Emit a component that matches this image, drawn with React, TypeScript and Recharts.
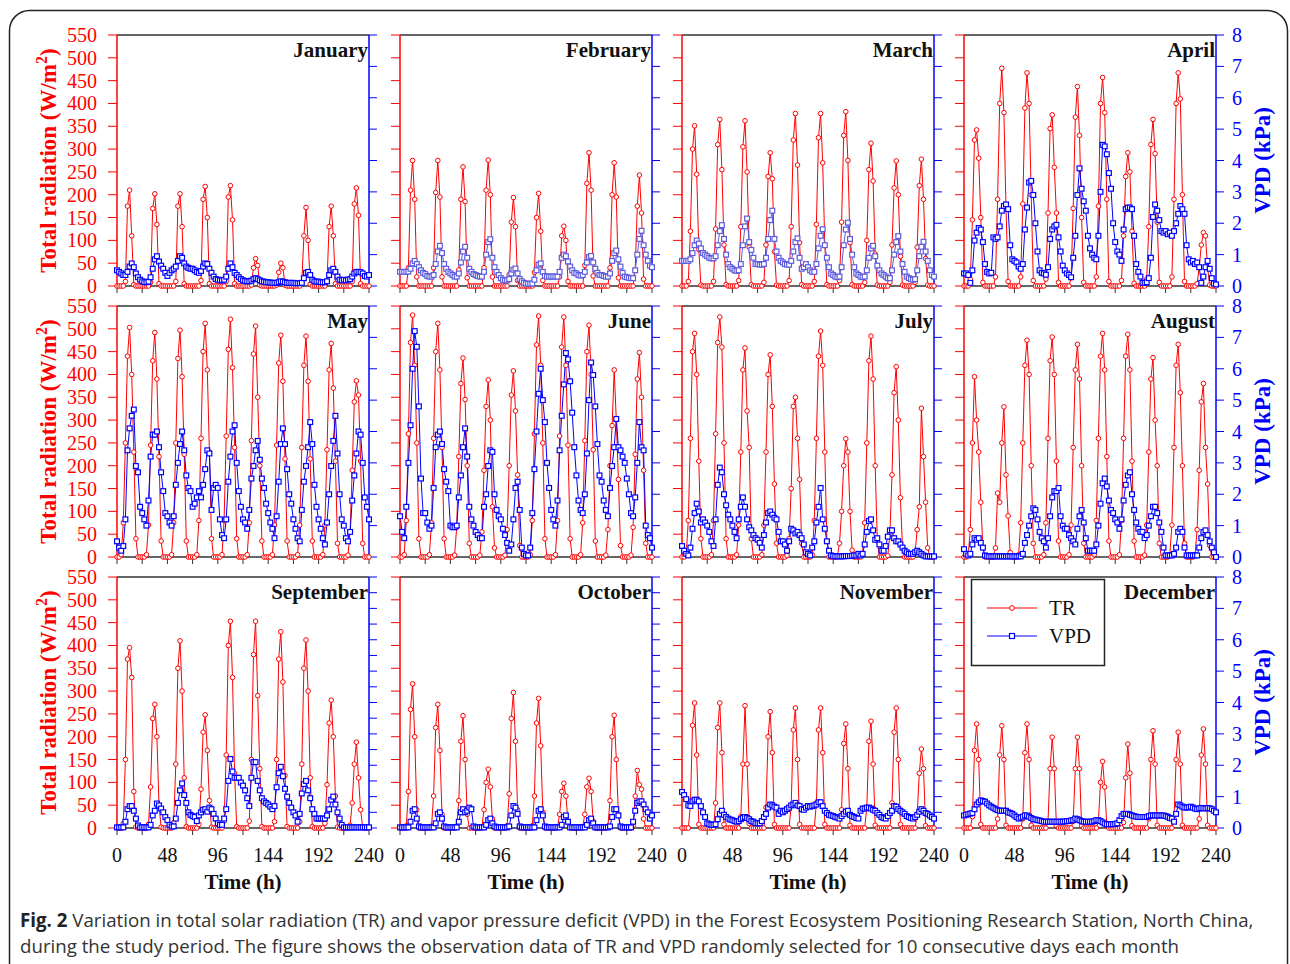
import React from 'react';
import { LineChart, Line, XAxis, YAxis, ReferenceLine } from 'recharts';

const MONTHS = ['January','February','March','April','May','June','July','August','September','October','November','December'];
const HOUR_STEP = 2;
const X_TICKS = [0,24,48,72,96,120,144,168,192,216,240];
const TR_TICKS = [0,50,100,150,200,250,300,350,400,450,500,550];
const VPD_TICKS = [0,1,2,3,4,5,6,7,8];
const VPD_TICKS_HALF = [0,0.5,1,1.5,2,2.5,3,3.5,4,4.5,5,5.5,6,6.5,7,7.5,8];

// ---- TR (W/m2), every 2 h, 10 days + end point ----
const JAN_TR = [
0,0,0,0,10,175,210,110,3,0,0,0, 0,0,0,0,8,170,202,135,5,0,0,0, 0,0,0,0,10,175,202,130,5,0,0,0,
0,0,0,0,12,190,218,150,5,0,0,0, 0,0,0,0,10,195,220,145,5,0,0,0, 0,0,0,0,2,40,60,45,2,0,0,0,
0,0,0,0,2,30,50,40,2,0,0,0, 0,0,0,0,8,110,172,100,4,0,0,0, 0,0,0,0,10,130,175,110,5,0,0,0,
0,0,0,0,10,180,215,155,5,0,0,0, 0];
const JAN_VPD = [
0.50,0.45,0.40,0.35,0.35,0.45,0.62,0.72,0.60,0.40,0.28,0.20,
0.15,0.12,0.12,0.14,0.28,0.55,0.85,0.95,0.78,0.65,0.55,0.42,
0.32,0.42,0.50,0.55,0.62,0.80,0.95,0.90,0.72,0.62,0.58,0.55,
0.55,0.50,0.45,0.42,0.48,0.62,0.72,0.70,0.55,0.42,0.30,0.22,
0.20,0.18,0.18,0.20,0.30,0.55,0.72,0.60,0.42,0.35,0.28,0.22,
0.18,0.16,0.15,0.15,0.17,0.22,0.25,0.22,0.18,0.15,0.14,0.12,
0.12,0.11,0.10,0.10,0.10,0.12,0.15,0.14,0.12,0.10,0.10,0.10,
0.10,0.09,0.09,0.09,0.10,0.25,0.42,0.45,0.35,0.20,0.15,0.14,
0.14,0.12,0.12,0.12,0.15,0.35,0.50,0.55,0.45,0.30,0.20,0.18,
0.20,0.18,0.20,0.22,0.30,0.40,0.45,0.45,0.44,0.40,0.32,0.30, 0.35];

const FEB_TR = [
0,0,0,0,40,210,275,190,20,0,0,0, 0,0,0,0,40,205,275,195,20,0,0,0, 0,0,0,0,35,190,261,185,18,0,0,0,
0,0,0,0,40,210,276,200,20,0,0,0, 0,0,0,0,25,140,194,130,12,0,0,0, 0,0,0,0,30,150,203,120,12,0,0,0,
0,0,0,0,20,110,131,100,10,0,0,0, 0,0,0,0,45,225,292,210,22,0,0,0, 0,0,0,0,40,200,270,195,18,0,0,0,
0,0,0,0,35,175,243,160,15,0,0,0, 0];
const FEB_VPD = [
0.45,0.45,0.45,0.45,0.46,0.55,0.72,0.80,0.70,0.60,0.50,0.42,
0.38,0.32,0.30,0.30,0.35,0.70,1.10,1.28,1.05,0.70,0.55,0.45,
0.40,0.35,0.30,0.30,0.40,0.75,1.10,1.25,0.90,0.55,0.45,0.38,
0.35,0.32,0.30,0.30,0.45,1.00,1.40,1.49,0.90,0.60,0.45,0.35,
0.25,0.20,0.18,0.18,0.22,0.40,0.52,0.56,0.40,0.22,0.15,0.10,
0.08,0.07,0.07,0.08,0.20,0.50,0.68,0.72,0.45,0.32,0.30,0.30,
0.30,0.30,0.30,0.30,0.45,0.90,1.00,0.95,0.78,0.62,0.50,0.42,
0.40,0.35,0.33,0.35,0.45,0.75,0.92,0.96,0.75,0.55,0.42,0.35,
0.35,0.32,0.30,0.30,0.40,0.80,1.05,1.13,0.85,0.62,0.42,0.30,
0.28,0.26,0.25,0.25,0.50,1.00,1.50,1.76,1.30,1.00,0.80,0.65, 0.60];

const MAR_TR = [
0,0,0,10,120,300,351,245,80,2,0,0, 0,0,0,10,125,310,365,255,90,3,0,0, 0,0,0,12,130,305,362,250,85,3,0,0,
0,0,0,8,90,240,292,235,75,2,0,0, 0,0,0,12,130,320,378,265,95,3,0,0, 0,0,0,10,135,325,378,270,90,3,0,0,
0,0,0,12,140,330,382,275,95,3,0,0, 0,0,0,8,100,255,313,230,70,2,0,0, 0,0,0,8,90,215,274,200,65,2,0,0,
0,0,0,8,85,220,278,190,60,2,0,0, 0];
const MAR_VPD = [
0.80,0.80,0.80,0.80,0.85,1.05,1.30,1.45,1.35,1.20,1.05,1.00,
0.95,0.90,0.88,0.88,0.95,1.30,1.75,1.94,1.50,1.00,0.70,0.60,
0.55,0.50,0.48,0.50,0.70,1.30,1.90,2.15,1.40,1.15,0.90,0.70,
0.70,0.68,0.68,0.70,0.90,1.50,2.10,2.40,1.50,1.10,0.90,0.80,
0.75,0.70,0.68,0.68,0.80,1.10,1.40,1.52,0.90,0.55,0.60,0.70,
0.60,0.50,0.45,0.45,0.70,1.20,1.60,1.81,1.30,0.90,0.60,0.40,
0.35,0.30,0.28,0.30,0.60,1.30,1.80,2.02,1.50,1.00,0.60,0.40,
0.35,0.30,0.28,0.30,0.50,0.90,1.20,1.28,0.95,0.65,0.50,0.40,
0.35,0.30,0.25,0.25,0.50,1.00,1.40,1.59,1.10,0.70,0.45,0.30,
0.25,0.22,0.20,0.22,0.50,0.95,1.25,1.41,1.10,0.80,0.50,0.35, 0.30];

const APR_TR = [
0,0,0,15,145,320,342,280,150,8,0,0, 0,0,0,20,190,400,477,380,170,10,0,0, 0,0,0,20,180,390,467,400,200,12,0,0,
0,0,0,15,160,345,375,260,160,8,0,0, 0,0,0,18,170,370,437,330,150,8,0,0, 0,0,0,20,175,400,457,380,190,10,0,0,
0,0,0,12,110,240,292,250,120,6,0,0, 0,0,0,15,130,310,365,290,140,8,0,0, 0,0,0,20,190,400,467,410,200,10,0,0,
0,0,0,5,40,90,117,110,40,2,0,0, 0];
const APR_VPD = [
0.40,0.40,0.35,0.10,0.50,1.45,1.70,1.85,1.80,1.40,0.70,0.45,
0.40,0.42,1.55,1.50,1.55,1.90,2.40,2.55,2.60,2.45,1.30,0.85,
0.80,0.75,0.62,0.55,0.70,1.80,2.50,3.30,3.35,2.90,2.00,1.10,
0.50,0.42,0.40,0.36,0.60,1.50,1.80,1.90,1.95,1.55,1.10,0.65,
0.50,0.40,0.35,0.28,0.90,1.60,2.90,3.75,3.10,2.70,2.40,1.60,
1.20,1.00,0.90,0.85,1.60,3.00,4.50,4.45,4.20,3.60,3.10,2.00,
1.40,1.10,1.00,0.80,1.80,2.45,2.50,2.50,2.45,1.60,0.70,0.45,
0.30,0.10,0.10,0.12,0.25,0.90,2.20,2.60,2.40,2.10,1.75,1.70,
1.75,1.65,1.70,1.60,1.75,2.00,2.30,2.55,2.45,2.30,1.30,0.85,
0.75,0.80,0.70,0.75,0.60,0.10,0.30,0.60,0.80,0.55,0.25,0.08, 0.05];

const MAY_TR = [
0,0,5,75,250,440,503,400,230,40,0,0, 0,0,5,70,245,430,492,390,220,35,0,0, 0,0,5,75,250,435,497,395,225,35,0,0,
0,0,5,80,260,450,512,410,230,40,0,0, 0,0,5,80,265,455,521,415,240,40,0,0, 0,0,5,75,255,445,506,350,200,35,0,0,
0,0,5,70,245,425,486,385,215,35,0,0, 0,0,5,70,240,420,484,385,215,35,0,0, 0,0,5,70,235,410,468,370,210,30,0,0,
0,0,4,55,190,340,386,355,210,30,0,0, 0];
const MAY_VPD = [
0.50,0.30,0.20,0.35,1.20,3.40,4.10,4.50,4.70,2.90,2.70,1.60,
1.40,1.20,1.00,1.80,3.20,3.90,3.90,4.00,3.50,2.70,2.10,1.40,
1.30,1.10,1.00,1.30,2.30,3.00,3.60,4.00,3.40,2.60,2.20,2.10,
1.60,1.70,1.90,2.10,1.90,2.30,2.80,3.40,3.30,1.50,2.20,2.30,
2.20,1.20,0.70,0.60,1.20,2.40,3.20,4.00,4.20,3.00,2.10,1.60,
1.20,1.10,0.90,1.50,2.50,2.90,3.40,3.70,3.10,2.50,2.20,1.70,
1.40,1.10,0.90,0.60,1.30,2.40,3.60,4.10,3.60,2.80,2.00,1.70,
1.20,0.90,0.60,0.50,1.50,2.40,2.90,3.50,4.30,3.60,2.30,1.60,
1.20,0.90,0.60,0.40,1.10,2.00,2.90,3.70,4.50,3.30,2.00,1.20,
1.00,0.60,0.50,0.80,1.80,2.60,3.30,4.00,3.90,3.00,1.90,1.60, 1.20];

const JUN_TR = [
0,0,5,80,270,470,530,420,250,40,0,0, 0,0,5,75,260,450,512,410,240,40,0,0, 0,0,4,65,220,380,436,345,200,30,0,0,
0,0,4,55,190,330,388,300,110,20,0,0, 0,0,4,60,200,355,408,320,180,25,0,0, 0,0,5,80,270,465,528,420,250,40,0,0,
0,0,5,80,265,460,526,420,245,40,0,0, 0,0,5,75,255,450,508,400,235,35,0,0, 0,0,4,60,200,288,410,300,170,25,0,0,
0,0,4,65,225,390,448,350,190,30,0,0, 0];
const JUN_VPD = [
1.30,0.80,0.60,1.60,3.00,4.20,6.00,7.20,6.70,4.80,2.50,1.40,
1.40,1.10,0.90,1.00,2.20,3.50,3.90,4.00,3.60,2.80,2.40,2.10,
1.00,0.95,0.95,1.00,1.90,2.60,3.50,4.10,3.20,1.60,1.20,1.00,
0.80,0.70,0.60,0.60,1.60,2.00,2.90,3.40,3.35,2.00,1.50,1.30,
1.20,0.90,0.70,0.45,0.20,0.40,1.20,2.20,2.40,1.50,0.30,0.10,
0.05,0.05,0.30,1.40,2.80,4.00,5.20,6.00,5.00,4.30,3.00,2.20,
1.50,1.20,1.00,1.80,3.40,4.50,5.50,6.50,6.30,5.60,4.60,3.50,
2.60,1.80,1.50,1.40,2.00,3.30,5.00,6.20,5.80,4.80,3.60,2.60,
2.40,1.80,1.50,1.30,2.20,2.90,3.50,4.40,3.50,3.40,3.20,3.00,
2.50,2.00,1.40,1.30,1.90,3.00,4.30,3.50,3.40,1.00,0.70,0.60, 0.30];

const JUL_TR = [
0,0,5,80,260,450,490,400,210,40,0,0, 0,0,5,80,270,470,526,460,250,40,0,0, 0,0,5,70,230,410,458,320,240,40,0,0,
0,0,5,70,230,400,443,330,160,30,0,0, 0,0,3,40,150,330,350,260,170,30,0,0, 0,0,5,80,260,440,495,420,230,35,0,0,
0,0,2,30,100,200,259,230,100,15,0,0, 0,0,5,75,250,430,484,390,200,35,0,0, 0,0,3,50,180,360,417,300,130,20,0,0,
0,0,0,10,60,110,326,220,120,20,0,0, 0];
const JUL_VPD = [
0.35,0.20,0.10,0.05,0.30,0.90,1.40,1.70,1.45,1.10,1.20,1.10,
1.00,0.80,0.50,0.35,1.20,2.30,2.85,2.70,2.00,1.65,1.35,1.20,
1.00,0.80,0.60,1.20,1.60,1.90,1.60,1.20,0.95,0.85,0.70,0.60,
0.55,0.45,0.30,0.70,1.10,1.40,1.45,1.35,1.25,1.20,0.80,0.50,
0.50,0.40,0.20,0.50,0.90,0.85,0.75,0.80,0.70,0.60,0.40,0.15,
0.10,0.05,0.30,0.50,1.10,1.60,2.20,1.20,0.90,0.50,0.20,0.05,
0.03,0.02,0.02,0.02,0.02,0.02,0.03,0.03,0.03,0.04,0.05,0.05,
0.10,0.05,0.10,0.40,0.80,1.15,1.20,0.85,0.55,0.60,0.40,0.20,
0.20,0.35,0.65,0.85,0.85,0.60,0.50,0.50,0.40,0.30,0.20,0.15,
0.10,0.10,0.10,0.15,0.20,0.15,0.10,0.05,0.02,0.02,0.02,0.02, 0.02];

const AUG_TR = [
0,0,3,60,250,395,300,230,120,20,0,0, 0,0,0,20,140,120,250,329,180,90,10,0, 0,0,5,75,250,420,475,400,200,30,0,0,
0,0,5,75,260,430,482,400,210,35,0,0, 0,0,5,70,240,410,466,390,200,30,0,0, 0,0,5,80,260,440,490,410,220,35,0,0,
0,0,5,80,260,440,488,410,210,35,0,0, 0,0,4,70,230,390,437,300,200,30,0,0, 0,0,5,70,240,420,466,360,200,30,0,0,
0,0,4,60,190,340,380,240,160,25,0,0, 0];
const AUG_VPD = [
0.25,0.10,0.05,0.10,0.40,0.60,0.55,0.60,0.45,0.30,0.05,0.03,
0.02,0.02,0.02,0.02,0.02,0.02,0.02,0.02,0.02,0.02,0.02,0.02,
0.02,0.02,0.02,0.02,0.10,0.45,0.70,1.00,1.30,1.55,1.50,1.20,
0.80,0.60,0.50,0.30,0.60,1.30,1.90,2.10,2.10,2.20,1.30,1.00,
0.90,0.90,0.70,0.60,0.50,0.40,0.90,1.30,1.50,1.10,0.60,0.20,
0.20,0.20,0.20,0.40,1.00,1.70,2.35,2.50,2.25,1.80,1.50,1.40,
1.20,1.10,0.90,1.20,1.80,2.30,2.60,2.70,2.00,1.50,1.10,0.90,
0.80,0.80,0.60,0.70,1.00,1.30,1.60,1.60,1.40,1.10,0.80,0.30,
0.05,0.05,0.05,0.05,0.10,0.30,0.80,0.90,0.80,0.30,0.05,0.05,
0.05,0.05,0.05,0.05,0.30,0.60,0.80,0.85,0.70,0.50,0.30,0.15, 0.00];

const SEP_TR = [
0,0,0,10,150,370,395,330,80,2,0,0, 0,0,0,8,90,240,271,200,50,2,0,0, 0,0,0,12,140,350,410,300,110,3,0,0,
0,0,0,8,85,210,248,170,60,2,0,0, 0,0,0,15,160,400,453,330,120,3,0,0, 0,0,0,15,150,380,453,290,130,3,0,0,
0,0,0,14,150,370,430,320,115,3,0,0, 0,0,0,14,140,350,412,300,110,3,0,0, 0,0,0,10,95,230,280,200,70,2,0,0,
0,0,0,6,55,140,188,110,40,1,0,0, 0];
const SEP_VPD = [
0.02,0.02,0.02,0.02,0.20,0.60,0.70,0.70,0.55,0.30,0.08,0.02,
0.02,0.02,0.02,0.02,0.10,0.40,0.55,0.78,0.72,0.62,0.50,0.35,
0.25,0.10,0.05,0.05,0.30,0.80,1.20,1.42,1.05,0.80,0.50,0.42,
0.38,0.35,0.22,0.40,0.50,0.58,0.60,0.52,0.65,0.60,0.45,0.30,
0.15,0.10,0.10,0.30,0.60,1.50,2.20,1.80,1.60,1.60,1.60,1.45,
1.35,1.20,0.95,0.70,1.60,2.10,2.10,1.50,1.20,0.95,0.85,0.80,
0.75,0.68,0.60,0.70,1.30,1.75,1.95,1.65,1.25,1.00,0.80,0.65,
0.50,0.40,0.20,0.45,1.10,1.40,1.50,1.20,0.95,0.60,0.45,0.30,
0.30,0.30,0.30,0.30,0.40,0.60,0.90,1.00,0.75,0.50,0.30,0.10,
0.02,0.02,0.02,0.02,0.02,0.02,0.02,0.02,0.02,0.02,0.02,0.02, 0.02];

const OCT_TR = [
0,0,0,5,80,260,316,200,40,0,0,0, 0,0,0,4,70,220,271,170,30,0,0,0, 0,0,0,4,60,190,246,150,30,0,0,0,
0,0,0,2,40,100,129,90,20,0,0,0, 0,0,0,5,75,240,297,190,40,0,0,0, 0,0,0,5,70,230,284,180,35,0,0,0,
0,0,0,2,30,80,98,70,15,0,0,0, 0,0,0,2,30,90,109,80,15,0,0,0, 0,0,0,4,60,200,247,150,30,0,0,0,
0,0,0,5,70,126,95,85,20,0,0,0, 0];
const OCT_VPD = [
0.02,0.02,0.02,0.02,0.02,0.20,0.55,0.60,0.30,0.05,0.02,0.02,
0.02,0.02,0.02,0.02,0.02,0.15,0.45,0.50,0.30,0.05,0.02,0.02,
0.02,0.02,0.02,0.02,0.20,0.50,0.60,0.50,0.55,0.65,0.60,0.05,
0.02,0.02,0.02,0.02,0.02,0.10,0.25,0.30,0.15,0.05,0.02,0.02,
0.02,0.02,0.02,0.02,0.05,0.40,0.70,0.65,0.45,0.05,0.02,0.02,
0.02,0.02,0.02,0.02,0.02,0.25,0.55,0.60,0.40,0.05,0.02,0.02,
0.02,0.02,0.02,0.02,0.02,0.10,0.35,0.40,0.20,0.02,0.02,0.02,
0.02,0.02,0.02,0.02,0.02,0.10,0.25,0.30,0.15,0.02,0.02,0.02,
0.02,0.02,0.02,0.02,0.05,0.35,0.60,0.60,0.40,0.05,0.02,0.02,
0.02,0.02,0.02,0.20,0.55,0.80,0.85,0.85,0.75,0.60,0.50,0.30, 0.40];

const NOV_TR = [
0,0,0,0,50,225,274,160,8,0,0,0, 0,0,0,0,55,220,274,165,8,0,0,0, 0,0,0,0,25,140,268,140,10,0,0,0,
0,0,0,0,45,200,255,165,8,0,0,0, 0,0,0,0,50,215,263,150,8,0,0,0, 0,0,0,0,55,215,263,165,8,0,0,0,
0,0,0,0,40,185,228,130,6,0,0,0, 0,0,0,0,45,190,234,140,6,0,0,0, 0,0,0,0,55,210,263,150,8,0,0,0,
0,0,0,0,30,120,173,130,5,0,0,0, 0];
const NOV_VPD = [
1.15,1.05,0.92,0.72,0.70,0.85,0.90,0.90,0.85,0.70,0.50,0.35,
0.15,0.12,0.10,0.10,0.12,0.28,0.45,0.55,0.42,0.35,0.30,0.27,
0.25,0.22,0.20,0.22,0.28,0.32,0.35,0.32,0.28,0.22,0.20,0.15,
0.15,0.15,0.22,0.35,0.45,0.65,0.75,0.72,0.68,0.65,0.45,0.55,
0.50,0.55,0.60,0.65,0.72,0.75,0.80,0.72,0.70,0.60,0.58,0.65,
0.70,0.68,0.70,0.72,0.75,0.82,0.82,0.70,0.55,0.48,0.42,0.40,
0.38,0.35,0.33,0.30,0.38,0.45,0.52,0.55,0.42,0.38,0.35,0.32,
0.30,0.55,0.62,0.62,0.65,0.65,0.62,0.58,0.55,0.48,0.42,0.35,
0.32,0.30,0.38,0.48,0.55,0.70,0.68,0.60,0.55,0.50,0.45,0.38,
0.35,0.32,0.30,0.35,0.42,0.52,0.60,0.55,0.48,0.45,0.40,0.35, 0.30];

const DEC_TR = [
0,0,0,0,25,170,228,150,8,0,0,0, 0,0,0,0,20,160,224,150,6,0,0,0, 0,0,0,0,20,165,228,150,6,0,0,0,
0,0,0,0,15,130,199,130,5,0,0,0, 0,0,0,0,15,130,199,130,5,0,0,0, 0,0,0,0,15,100,146,90,5,0,0,0,
0,0,0,0,12,110,184,120,5,0,0,0, 0,0,0,0,20,150,213,140,6,0,0,0, 0,0,0,0,20,150,210,140,6,0,0,0,
0,0,0,0,20,160,217,140,6,0,0,0, 0];
const DEC_VPD = [
0.40,0.42,0.44,0.46,0.48,0.60,0.75,0.82,0.88,0.86,0.84,0.78,
0.72,0.68,0.64,0.60,0.57,0.55,0.55,0.55,0.55,0.50,0.48,0.45,
0.40,0.35,0.30,0.33,0.36,0.40,0.40,0.36,0.32,0.28,0.27,0.25,
0.24,0.22,0.20,0.20,0.20,0.20,0.20,0.20,0.20,0.20,0.20,0.20,
0.21,0.22,0.22,0.24,0.25,0.30,0.28,0.25,0.22,0.20,0.20,0.20,
0.20,0.20,0.22,0.25,0.25,0.22,0.18,0.14,0.12,0.12,0.12,0.12,
0.13,0.15,0.25,0.38,0.45,0.45,0.45,0.42,0.40,0.38,0.36,0.35,
0.35,0.35,0.35,0.35,0.38,0.40,0.40,0.40,0.40,0.40,0.40,0.40,
0.38,0.36,0.32,0.30,0.20,0.45,0.75,0.72,0.68,0.65,0.65,0.66,
0.68,0.65,0.62,0.60,0.62,0.64,0.63,0.62,0.64,0.63,0.60,0.55, 0.50];

const TR_SERIES = [JAN_TR, FEB_TR, MAR_TR, APR_TR, MAY_TR, JUN_TR, JUL_TR, AUG_TR, SEP_TR, OCT_TR, NOV_TR, DEC_TR];
const VPD_SERIES = [JAN_VPD, FEB_VPD, MAR_VPD, APR_VPD, MAY_VPD, JUN_VPD, JUL_VPD, AUG_VPD, SEP_VPD, OCT_VPD, NOV_VPD, DEC_VPD];

// ---- layout ----
const COL_X = [117, 400, 682, 964];
const ROW_Y = [35, 306, 577];
const PW = 252, PH = 251;
const ML = 70, MR = 70, MT = 10, MB = 50;
const SERIF = '"Liberation Serif", "Times New Roman", serif';
const SANS = '"Open Sans", "Noto Sans", sans-serif';
const RED = '#ff0000';
const BLUE = '#0000ff';
const FRAME = '#333333';

const circleDot = (p: any) => {
  if (p.cx == null || p.cy == null) return <g key={`c${p.index}`} />;
  return <circle key={`c${p.index}`} cx={p.cx} cy={p.cy} r={2.3} fill="#fff" stroke={RED} strokeWidth={1} />;
};
const squareDot = (color: string) => (p: any) => {
  if (p.cx == null || p.cy == null) return <g key={`s${p.index}`} />;
  return <rect key={`s${p.index}`} x={p.cx - 2.4} y={p.cy - 2.4} width={4.8} height={4.8} fill="#fff" stroke={color} strokeWidth={1.2} />;
};

function Panel({ idx }: { idx: number }) {
  const col = idx % 4;
  const row = Math.floor(idx / 4);
  const tr = TR_SERIES[idx];
  const vpd = VPD_SERIES[idx];
  const data = tr.map((v, i) => ({ h: i * HOUR_STEP, tr: v, vpd: vpd[i] }));
  const showLeft = col === 0;
  const showRight = col === 3;
  const showX = row === 2;
  const half = row === 2 && col < 3;
  const vpdColor = idx === 1 || idx === 2 ? '#5c5cdc' : BLUE;

  const leftTick = (p: any) =>
    showLeft ? (
      <text x={ML - 20} y={p.y + 7} textAnchor="end" fontFamily={SERIF} fontSize={20} fill={RED}>{p.payload.value}</text>
    ) : <g />;
  const rightTick = (p: any) =>
    showRight && Number.isInteger(p.payload.value) ? (
      <text x={ML + PW + 16} y={p.y + 7} textAnchor="start" fontFamily={SERIF} fontSize={20} fill={BLUE}>{p.payload.value}</text>
    ) : <g />;
  const xTick = (p: any) =>
    showX && p.payload.value % 48 === 0 ? (
      <text x={p.x} y={MT + PH + 34} textAnchor="middle" fontFamily={SERIF} fontSize={20} fill="#111">{p.payload.value}</text>
    ) : <g />;

  return (
    <div style={{ position: 'absolute', left: COL_X[col] - ML, top: ROW_Y[row] - MT }}>
      <LineChart width={PW + ML + MR} height={PH + MT + MB} data={data} margin={{ top: MT, right: 0, bottom: 0, left: 0 }}>
        <XAxis dataKey="h" type="number" domain={[0, 240]} ticks={X_TICKS} interval={0} height={MB}
          axisLine={{ stroke: FRAME, strokeWidth: 1.5 }} tickLine={{ stroke: FRAME }} tickSize={7} tick={xTick} />
        <YAxis yAxisId="tr" orientation="left" domain={[0, 550]} ticks={TR_TICKS} interval={0} width={ML}
          axisLine={{ stroke: RED, strokeWidth: 1.5 }} tickLine={{ stroke: RED }} tickSize={9} tick={leftTick} />
        <YAxis yAxisId="vpd" orientation="right" domain={[0, 8]} ticks={half ? VPD_TICKS_HALF : VPD_TICKS} interval={0} width={MR}
          axisLine={{ stroke: BLUE, strokeWidth: 1.5 }} tickLine={{ stroke: BLUE }} tickSize={8} tick={rightTick} />
        <ReferenceLine yAxisId="tr" y={550} stroke={FRAME} strokeWidth={1.5} />
        <Line yAxisId="tr" type="linear" dataKey="tr" stroke={RED} strokeWidth={1} dot={circleDot} activeDot={false} isAnimationActive={false} />
        <Line yAxisId="vpd" type="linear" dataKey="vpd" stroke={vpdColor} strokeWidth={1} dot={squareDot(vpdColor)} activeDot={false} isAnimationActive={false} />
      </LineChart>
    </div>
  );
}

function Overlay() {
  const rows = [0, 1, 2];
  const cols = [0, 1, 2, 3];
  return (
    <svg width={1290} height={964} style={{ position: 'absolute', left: 0, top: 0, pointerEvents: 'none' }}>
      <rect x={9.5} y={10.5} width={1278} height={1000} rx={20} ry={20} fill="none" stroke="#222" strokeWidth={1.5} />
      {MONTHS.map((m, i) => (
        <text key={m} x={COL_X[i % 4] + PW - 1} y={ROW_Y[Math.floor(i / 4)] + 22} textAnchor="end"
          fontFamily={SERIF} fontWeight="bold" fontSize={21} fill="#111">{m}</text>
      ))}
      {rows.map((r) => (
        <text key={`lt${r}`} transform={`translate(56, ${ROW_Y[r] + PH / 2}) rotate(-90)`} textAnchor="middle"
          fontFamily={SERIF} fontWeight="bold" fontSize={23} fill={RED}>
          Total radiation (W/m<tspan dy={-9} fontSize={16}>2</tspan><tspan dy={9}>)</tspan>
        </text>
      ))}
      {rows.map((r) => (
        <text key={`rt${r}`} transform={`translate(1270, ${ROW_Y[r] + PH / 2}) rotate(-90)`} textAnchor="middle"
          fontFamily={SERIF} fontWeight="bold" fontSize={23} fill={BLUE}>VPD (kPa)</text>
      ))}
      {cols.map((c) => (
        <text key={`xt${c}`} x={COL_X[c] + PW / 2} y={889} textAnchor="middle"
          fontFamily={SERIF} fontWeight="bold" fontSize={21} fill="#111">Time (h)</text>
      ))}
      <g>
        <rect x={971.5} y={579.5} width={133} height={86} fill="#fff" stroke="#222" strokeWidth={1.5} />
        <line x1={987} x2={1037} y1={608} y2={608} stroke={RED} strokeWidth={1.2} />
        <circle cx={1012} cy={608} r={2.4} fill="#fff" stroke={RED} strokeWidth={1} />
        <text x={1049} y={615} fontFamily={SERIF} fontSize={21} fill="#111">TR</text>
        <line x1={987} x2={1037} y1={636} y2={636} stroke={BLUE} strokeWidth={1.2} />
        <rect x={1009.5} y={633.5} width={5} height={5} fill="#fff" stroke={BLUE} strokeWidth={1.2} />
        <text x={1049} y={643} fontFamily={SERIF} fontSize={21} fill="#111">VPD</text>
      </g>
      <text x={20} y={927} fontFamily={SANS} fontSize={18.7} fill="#333">
        <tspan fontWeight="bold" fill="#222">Fig. 2</tspan> Variation in total solar radiation (TR) and vapor pressure deficit (VPD) in the Forest Ecosystem Positioning Research Station, North China,
      </text>
      <text x={20} y={953} fontFamily={SANS} fontSize={18.7} fill="#333">
        during the study period. The figure shows the observation data of TR and VPD randomly selected for 10 consecutive days each month
      </text>
    </svg>
  );
}

export default function App() {
  const panels = MONTHS.map((_, i) => i);
  return (
    <div style={{ position: 'absolute', left: 0, top: 0, width: 1290, height: 964, background: '#fff', overflow: 'hidden' }}>
      {panels.map((i) => <Panel key={i} idx={i} />)}
      <Overlay />
    </div>
  );
}
